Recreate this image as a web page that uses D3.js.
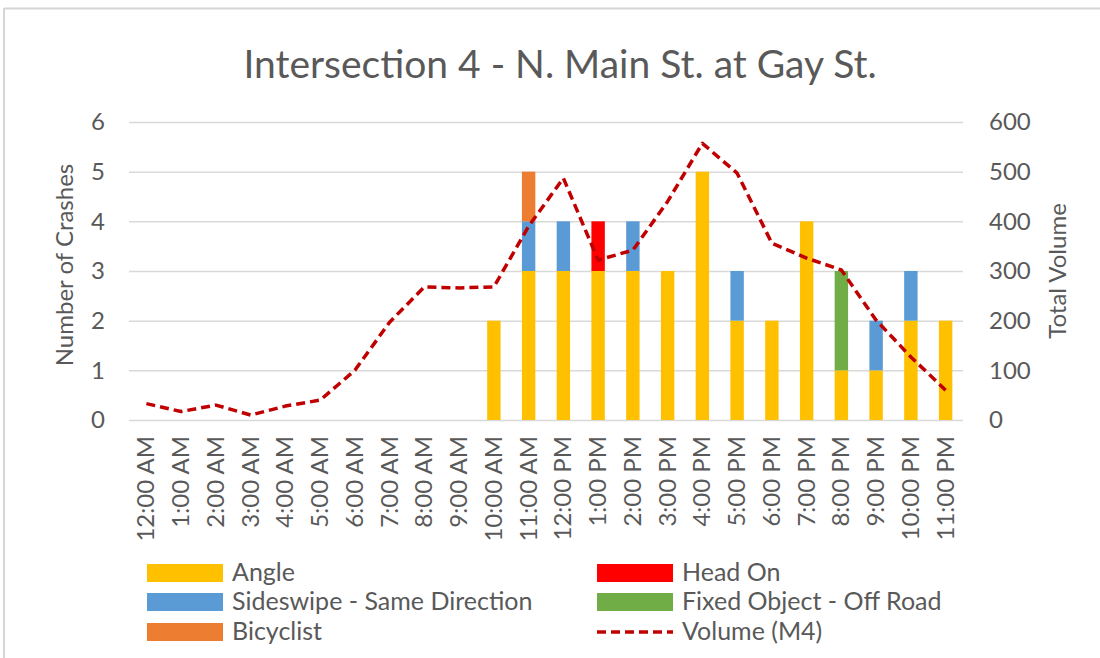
<!DOCTYPE html>
<html>
<head>
<meta charset="utf-8">
<title>Intersection 4</title>
<script src="https://d3js.org/d3.v7.min.js"></script>
<style>
  body { margin: 0; background: #fff; }
  text { font-family: Lato, "Open Sans", sans-serif; fill: #595959; }
</style>
</head>
<body>
<script>
// data
var hours = ["12:00 AM","1:00 AM","2:00 AM","3:00 AM","4:00 AM","5:00 AM","6:00 AM","7:00 AM",
             "8:00 AM","9:00 AM","10:00 AM","11:00 AM","12:00 PM","1:00 PM","2:00 PM","3:00 PM",
             "4:00 PM","5:00 PM","6:00 PM","7:00 PM","8:00 PM","9:00 PM","10:00 PM","11:00 PM"];
var angle     = [0,0,0,0,0,0,0,0,0,0,2,3,3,3,3,3,5,2,2,4,1,1,2,2];
var sideswipe = [0,0,0,0,0,0,0,0,0,0,0,1,1,0,1,0,0,1,0,0,0,1,1,0];
var bicyclist = [0,0,0,0,0,0,0,0,0,0,0,1,0,0,0,0,0,0,0,0,0,0,0,0];
var headOn    = [0,0,0,0,0,0,0,0,0,0,0,0,0,1,0,0,0,0,0,0,0,0,0,0];
var fixedObj  = [0,0,0,0,0,0,0,0,0,0,0,0,0,0,0,0,0,0,0,0,2,0,0,0];
var volume    = [33,17,30,10,28,40,100,197,268,266,268,390,487,322,342,440,557,497,356,326,302,201,127,60];
var leftTicks = [0,1,2,3,4,5,6];
var rightTicks = [0,100,200,300,400,500,600];

var seriesKeys = ["Angle","Sideswipe - Same Direction","Bicyclist","Head On","Fixed Object - Off Road"];
var seriesVals = [angle, sideswipe, bicyclist, headOn, fixedObj];
var colors = ["#FFC000","#5B9BD5","#ED7D31","#FF0000","#70AD47"];
var lineColor = "#C00000";

var width = 1100, height = 658;
var margin = { top: 122, bottom: 238, left: 129, right: 137 };

var svg = d3.select("body").append("svg").attr("width", width).attr("height", height);

// outer frame (top + left edge)
svg.append("line").attr("x1", 4).attr("x2", width).attr("y1", 8.5).attr("y2", 8.5)
  .attr("stroke", "#d6d6d6").attr("stroke-width", 2);
svg.append("line").attr("x1", 4).attr("x2", 4).attr("y1", 8).attr("y2", height)
  .attr("stroke", "#d6d6d6").attr("stroke-width", 2);

// title
svg.append("text").attr("x", 560).attr("y", 78).attr("text-anchor", "middle")
  .attr("font-size", "39px").text("Intersection 4 - N. Main St. at Gay St.");

// scales
var xScale = d3.scaleBand().domain(hours)
  .range([margin.left, width - margin.right])
  .paddingInner(0.614).paddingOuter(0.307);
var yLeft = d3.scaleLinear().domain([0, 6]).range([height - margin.bottom, margin.top]);
var yRight = d3.scaleLinear().domain([0, 600]).range([height - margin.bottom, margin.top]);

// gridlines
svg.append("g").selectAll("line").data(leftTicks).enter().append("line")
  .attr("x1", margin.left).attr("x2", width - margin.right)
  .attr("y1", function(d) { return yLeft(d) + 0.5; })
  .attr("y2", function(d) { return yLeft(d) + 0.5; })
  .attr("stroke", "#d9d9d9").attr("stroke-width", 1.5);

// axes
var axisL = d3.axisLeft(yLeft).tickValues(leftTicks).tickFormat(d3.format("d"))
  .tickSize(0).tickPadding(24);
var gL = svg.append("g").attr("transform", "translate(" + margin.left + ",0)").call(axisL);
gL.select(".domain").remove();
gL.selectAll("text").attr("font-size", "24px").attr("fill", "#595959")
  .style("font-family", "Lato, sans-serif");

var axisR = d3.axisRight(yRight).tickValues(rightTicks).tickFormat(d3.format("d"))
  .tickSize(0).tickPadding(26);
var gR = svg.append("g").attr("transform", "translate(" + (width - margin.right) + ",0)").call(axisR);
gR.select(".domain").remove();
gR.selectAll("text").attr("font-size", "24px").attr("fill", "#595959")
  .style("font-family", "Lato, sans-serif");

var axisX = d3.axisBottom(xScale).tickSize(0).tickPadding(0);
var gX = svg.append("g").attr("transform", "translate(0," + (height - margin.bottom) + ")").call(axisX);
gX.select(".domain").remove();
gX.selectAll("text").attr("font-size", "24px").attr("fill", "#595959")
  .style("font-family", "Lato, sans-serif")
  .attr("text-anchor", "end").attr("dy", null)
  .attr("transform", "translate(8,16) rotate(-90)");

// axis titles
svg.append("text").attr("transform", "translate(73,265) rotate(-90)")
  .attr("text-anchor", "middle").attr("font-size", "24px").text("Number of Crashes");
svg.append("text").attr("transform", "translate(1066,271) rotate(-90)")
  .attr("text-anchor", "middle").attr("font-size", "24px").text("Total Volume");

// stacked bars
var rows = hours.map(function(h, i) {
  var r = { hour: h };
  seriesKeys.forEach(function(k, j) { r[k] = seriesVals[j][i]; });
  return r;
});
var stacked = d3.stack().keys(seriesKeys)(rows);

svg.append("g").selectAll("g").data(stacked).enter().append("g")
  .attr("fill", function(d, i) { return colors[i]; })
  .selectAll("rect").data(function(d) { return d; }).enter().append("rect")
  .attr("x", function(d) { return xScale(d.data.hour); })
  .attr("width", xScale.bandwidth())
  .attr("y", function(d) { return yLeft(d[1]); })
  .attr("height", function(d) { return yLeft(d[0]) - yLeft(d[1]); });

// volume line
var line = d3.line()
  .x(function(d, i) { return xScale(hours[i]) + xScale.bandwidth() / 2; })
  .y(function(d) { return yRight(d); });
svg.append("path").datum(volume)
  .attr("fill", "none").attr("stroke", lineColor).attr("stroke-width", 3.5)
  .attr("stroke-dasharray", "9,5").attr("stroke-linejoin", "round")
  .attr("d", line);

// legend
var legendItems = [
  { name: "Angle", color: colors[0], col: 0, row: 0 },
  { name: "Head On", color: colors[3], col: 1, row: 0 },
  { name: "Sideswipe - Same Direction", color: colors[1], col: 0, row: 1 },
  { name: "Fixed Object - Off Road", color: colors[4], col: 1, row: 1 },
  { name: "Bicyclist", color: colors[2], col: 0, row: 2 },
  { name: "Volume (M4)", color: lineColor, col: 1, row: 2, line: true }
];
var colX = [147, 597], rowY = [573, 602, 632];
var lg = svg.append("g").selectAll("g").data(legendItems).enter().append("g")
  .attr("transform", function(d) { return "translate(" + colX[d.col] + "," + rowY[d.row] + ")"; });
lg.filter(function(d) { return !d.line; }).append("rect")
  .attr("x", 0).attr("y", -9).attr("width", 76).attr("height", 18)
  .attr("fill", function(d) { return d.color; });
lg.filter(function(d) { return d.line; }).append("line")
  .attr("x1", 0).attr("x2", 76).attr("y1", 0).attr("y2", 0)
  .attr("stroke", lineColor).attr("stroke-width", 3.5).attr("stroke-dasharray", "9,5");
lg.append("text").attr("x", 85).attr("y", 8).attr("font-size", "25px")
  .text(function(d) { return d.name; });
</script>
</body>
</html>
